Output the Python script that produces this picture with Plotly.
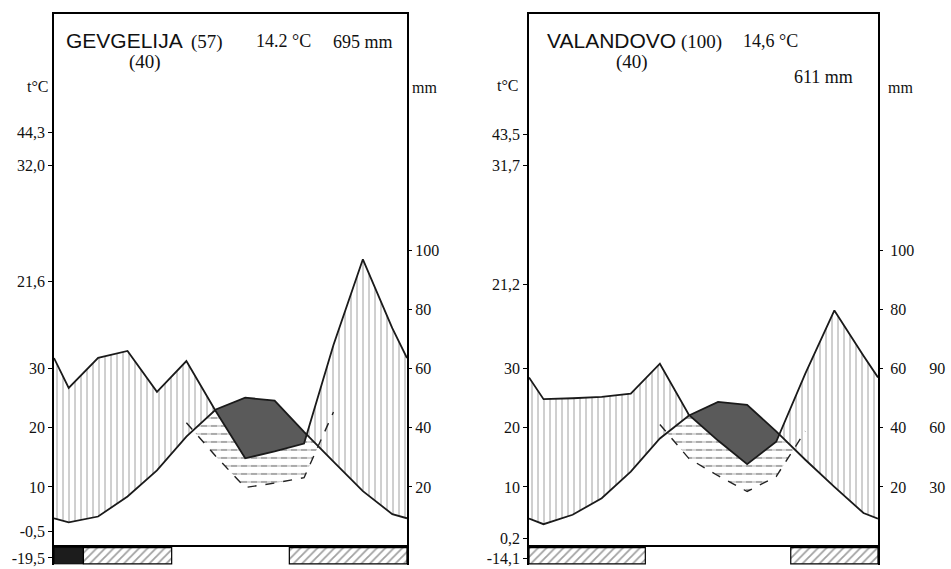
import numpy as np
import plotly.graph_objects as go

# ---------------- data ----------------
MONTHS = ["Jan", "Feb", "Mar", "Apr", "May", "Jun", "Jul", "Aug", "Sep", "Oct", "Nov", "Dec"]

stations = ["GEVGELIJA", "VALANDOVO"]
altitudes = ["(57)", "(100)"]
years = ["(40)", "(40)"]
mean_temps = ["14.2 °C", "14,6 °C"]
annual_prec = ["695 mm", "611 mm"]

# monthly mean temperature (°C)
gev_temp = [4.0, 5.0, 8.4, 12.8, 18.5, 23.1, 25.1, 24.6, 19.3, 14.3, 9.3, 5.4]
val_temp = [3.7, 5.3, 8.1, 12.6, 18.2, 22.1, 24.4, 23.9, 19.4, 14.6, 10.0, 5.6]

# monthly precipitation (mm)
gev_prec = [53.5, 63.7, 66.0, 52.2, 62.6, 45.6, 29.7, 32.0, 34.7, 68.0, 97.0, 73.7]
val_prec = [49.7, 50.0, 50.5, 51.6, 61.7, 44.4, 35.7, 27.7, 35.3, 58.3, 79.7, 64.4]

# frost months: 2 = certain frost (black), 1 = possible frost (hatched), 0 = none
gev_frost = [2, 1, 1, 1, 0, 0, 0, 0, 1, 1, 1, 1]
val_frost = [1, 1, 1, 1, 0, 0, 0, 0, 0, 1, 1, 1]

# extreme value labels on the temperature axis
gev_extra_labels = ["44,3", "32,0", "21,6", "-0,5", "-19,5"]
val_extra_labels = ["43,5", "31,7", "21,2", "0,2", "-14,1"]

temp_ticks = [10, 20, 30]
prec_ticks = [20, 40, 60, 80, 100]
prec3_ticks = [30, 60, 90]

# ---------------- style / layout ----------------
W, H = 951, 569
Y_LO, Y_HI = -3.2, 90.0
MM2, MM3 = 2.0, 3.0
BAR_BASE, BAR_H = -3.0, 2.75
gev_extra_pos = [69.9, 64.4, 44.7, 2.5, -2.0]
val_extra_pos = [69.6, 64.4, 44.3, 1.35, -2.1]
SERIF = "Liberation Serif"
SANS = "Liberation Sans"
LINE = "#1a1a1a"

XD1 = [54 / W, 407 / W]
XD2 = [529 / W, 878 / W]
YD = [2 / H, 555 / H]

fig = go.Figure()


def ext(v):
    e = (v[0] + v[-1]) / 2.0
    return np.array([e] + list(v) + [e], dtype=float)


XM = np.array([0.0] + [i + 0.5 for i in range(12)] + [12.0])


def crossings(x, a, b):
    xs, aa, bb = [x[0]], [a[0]], [b[0]]
    for i in range(1, len(x)):
        d0 = a[i - 1] - b[i - 1]
        d1 = a[i] - b[i]
        if d0 * d1 < 0:
            t = d0 / (d0 - d1)
            xc = x[i - 1] + t * (x[i] - x[i - 1])
            yc = a[i - 1] + t * (a[i] - a[i - 1])
            xs.append(xc); aa.append(yc); bb.append(yc)
        xs.append(x[i]); aa.append(a[i]); bb.append(b[i])
    return np.array(xs), np.array(aa), np.array(bb)


def poly(xs, upper, lower, xa, ya, **kw):
    fig.add_trace(go.Scatter(
        x=np.concatenate([xs, xs[::-1]]),
        y=np.concatenate([upper, lower[::-1]]),
        fill="toself", mode="lines", line=dict(width=0),
        xaxis=xa, yaxis=ya, hoverinfo="skip", showlegend=False, **kw))


def panel(temp, prec, frost, xa, ya, ya_mm, ya_mm3):
    T = ext(temp)
    P = ext(prec)
    P2 = P / MM2
    P3 = P / MM3

    # semi-arid area (temperature above precipitation on 10°C = 30 mm scale)
    xs, a, b = crossings(XM, T, P3)
    low = np.minimum(a, b)
    poly(xs, a, low, xa, ya, fillcolor="rgba(0,0,0,0)",
         fillpattern=dict(shape="-", fgcolor="#2a2a2a", bgcolor="rgba(0,0,0,0)",
                          size=8, solidity=0.2))
    poly(xs, a, low, xa, ya, fillcolor="rgba(0,0,0,0)",
         fillpattern=dict(shape="|", fgcolor="white", bgcolor="rgba(0,0,0,0)",
                          size=10, solidity=0.4))

    # arid (dark) and humid (vertical hatch) areas
    xs, a, b = crossings(XM, T, P2)
    poly(xs, a, np.minimum(a, b), xa, ya, fillcolor="#5a5a5a")
    poly(xs, np.maximum(a, b), a, xa, ya, fillcolor="rgba(0,0,0,0)",
         fillpattern=dict(shape="|", fgcolor="#6e6e6e", bgcolor="rgba(0,0,0,0)",
                          size=6, solidity=0.22))

    # dashed precipitation curve (10°C = 30 mm) around the dry season
    dry = [i for i in range(12) if temp[i] > prec[i] / MM3]
    i0, i1 = max(min(dry) - 1, 0), min(max(dry) + 1, 11)
    fig.add_trace(go.Scatter(
        x=[i + 0.5 for i in range(i0, i1 + 1)], y=prec[i0:i1 + 1],
        mode="lines", line=dict(color="#222222", width=1.4, dash="dash"),
        xaxis=xa, yaxis=ya_mm3, hoverinfo="skip", showlegend=False))

    # temperature and precipitation curves
    fig.add_trace(go.Scatter(x=XM, y=T, mode="lines",
                             line=dict(color=LINE, width=1.8),
                             xaxis=xa, yaxis=ya, showlegend=False,
                             hovertemplate="%{y:.1f} °C<extra></extra>"))
    fig.add_trace(go.Scatter(x=XM, y=P, mode="lines",
                             line=dict(color=LINE, width=1.8),
                             xaxis=xa, yaxis=ya_mm, showlegend=False,
                             hovertemplate="%{y:.1f} mm<extra></extra>"))

    # frost bars
    i = 0
    while i < 12:
        c = frost[i]
        j = i
        while j < 12 and frost[j] == c:
            j += 1
        if c:
            if c == 2:
                marker = dict(color="#1c1c1c", line=dict(color="black", width=1))
            else:
                marker = dict(color="white", line=dict(color="black", width=1.2),
                              pattern=dict(shape="/", fgcolor="#444444",
                                           bgcolor="white", size=6, solidity=0.3))
            fig.add_trace(go.Bar(x=[(i + j) / 2.0], y=[BAR_H], base=[BAR_BASE],
                                 width=[j - i], marker=marker, xaxis=xa, yaxis=ya,
                                 showlegend=False, hoverinfo="skip"))
        i = j


panel(gev_temp, gev_prec, gev_frost, "x", "y", "y2", "y6")
panel(val_temp, val_prec, val_frost, "x2", "y3", "y4", "y5")

tickfont = dict(family=SERIF, size=16, color="#111")


def xaxis(domain, anchor):
    return dict(domain=domain, anchor=anchor, range=[0, 12], side="top",
                showline=True, linecolor="black", linewidth=1.5,
                showticklabels=False, ticks="", showgrid=False, zeroline=False,
                fixedrange=True)


def taxis(anchor, ticks, pos, labels):
    return dict(domain=YD, anchor=anchor, range=[Y_LO, Y_HI],
                tickvals=ticks + pos, ticktext=[str(t) for t in ticks] + labels,
                ticks="outside", ticklen=4, tickcolor="black", tickwidth=1,
                showline=True, mirror=True, linecolor="black", linewidth=1.5,
                zeroline=True, zerolinecolor="black", zerolinewidth=1.6,
                showgrid=False, tickfont=tickfont, fixedrange=True,
                ticklabeloverflow="allow")


def maxis(over, anchor, standoff):
    return dict(overlaying=over, anchor=anchor, side="right",
                range=[Y_LO * MM2, Y_HI * MM2], tickvals=prec_ticks,
                ticks="outside", ticklen=4, tickcolor="black",
                showline=False, showgrid=False, zeroline=False,
                tickfont=tickfont, ticklabelstandoff=standoff, fixedrange=True)


fig.update_layout(
    width=W, height=H,
    margin=dict(l=0, r=0, t=0, b=0, pad=0),
    paper_bgcolor="white", plot_bgcolor="white",
    barmode="overlay", showlegend=False,
    xaxis=xaxis(XD1, "y"),
    xaxis2=xaxis(XD2, "y3"),
    yaxis=taxis("x", temp_ticks, gev_extra_pos, gev_extra_labels),
    yaxis3=taxis("x2", temp_ticks, val_extra_pos, val_extra_labels),
    yaxis2=maxis("y", "x", 0),
    yaxis4=maxis("y3", "x2", 4),
    yaxis6=dict(overlaying="y", anchor="x", visible=False,
                range=[Y_LO * MM3, Y_HI * MM3], fixedrange=True),
    yaxis5=dict(overlaying="y3", anchor="free", position=0.976, side="right",
                range=[Y_LO * MM3, Y_HI * MM3], tickvals=prec3_ticks,
                ticks="", showline=False, showgrid=False, zeroline=False,
                tickfont=tickfont, fixedrange=True),
)


def ann(text, x, y, size, family=SERIF, xanchor="left"):
    fig.add_annotation(text=text, x=x / W, y=1 - y / H, xref="paper", yref="paper",
                       xanchor=xanchor, yanchor="middle", showarrow=False,
                       font=dict(family=family, size=size, color="#111"))


# headers
ann(stations[0], 64, 41, 21, SANS)
ann(altitudes[0], 189, 42, 19)
ann(mean_temps[0], 254, 41, 18)
ann(annual_prec[0], 331, 42, 18)
ann(years[0], 127, 62, 19)

ann(stations[1], 545, 41, 21, SANS)
ann(altitudes[1], 679, 42, 19)
ann(mean_temps[1], 741, 41, 18)
ann(years[1], 614, 62, 19)
ann(annual_prec[1], 792, 77, 18)

# axis unit labels
ann("t°C", 51, 87, 16, xanchor="right")
ann("mm", 410, 88, 16)
ann("t°C", 521, 86, 16, xanchor="right")
ann("mm", 886, 88, 16)

fig.write_html(
    "out.html",
    config={"displayModeBar": False},
    post_script="document.body.style.margin='0';document.body.style.overflow='hidden';",
)
